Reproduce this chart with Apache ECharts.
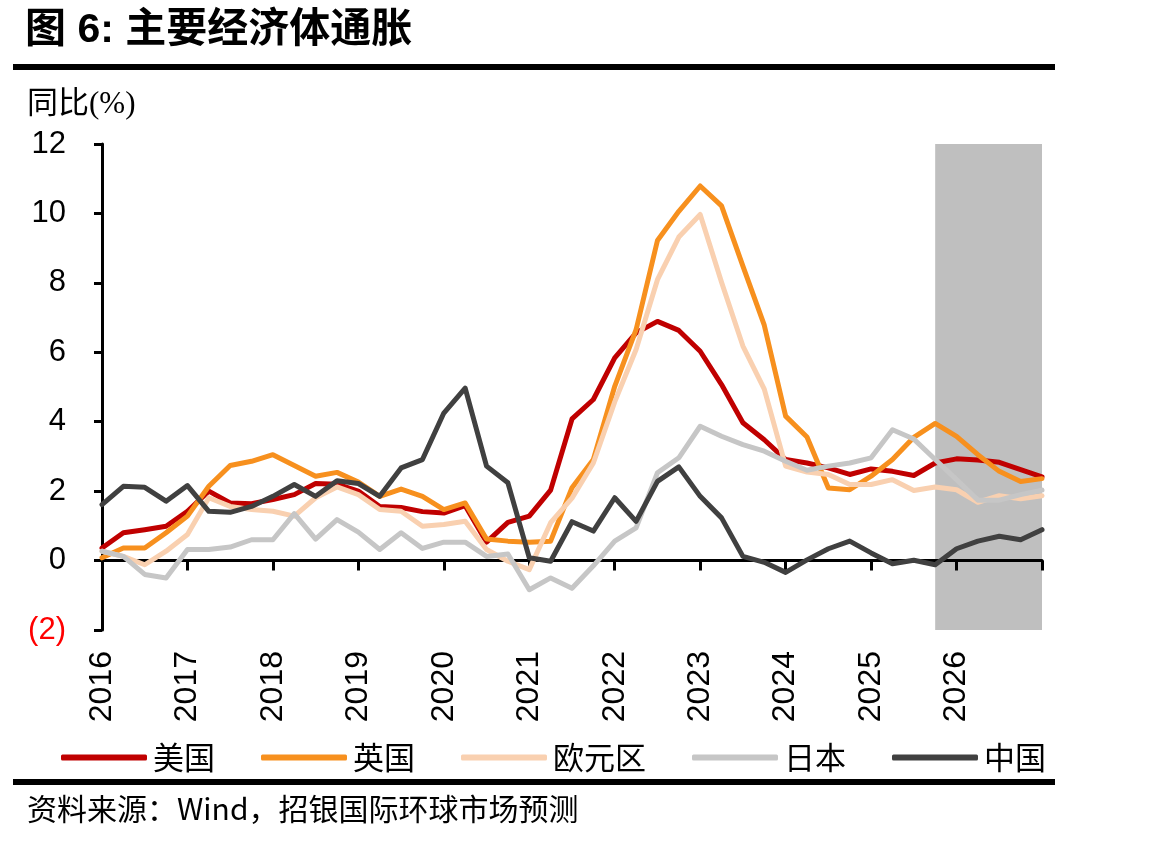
<!DOCTYPE html>
<html lang="zh">
<head>
<meta charset="utf-8">
<title>主要经济体通胀</title>
<script src="https://cdn.jsdelivr.net/npm/echarts@6.0.0/dist/echarts.min.js"></script>
<style>
  html, body { margin: 0; padding: 0; background: #fff; }
  #chart { width: 1165px; height: 843px; }
</style>
</head>
<body>
<div id="chart"></div>
<script>
const YEARS = ["2016", "2017", "2018", "2019", "2020", "2021", "2022", "2023", "2024", "2025", "2026"];
const END_LABEL = "2027";
const FORECAST_START = "2025Q4";

// quarterly points, one per quarter, tick label at each year start
const categories = [];
YEARS.forEach((year) => {
  categories.push(year, `${year}Q2`, `${year}Q3`, `${year}Q4`);
});
categories.push(END_LABEL);

const usCpi = [
  0.36, 0.80, 0.89, 0.99, 1.42, 2.00, 1.66, 1.64, 1.76, 1.90,
  2.22, 2.20, 2.00, 1.56, 1.53, 1.41, 1.37, 1.58, 0.53, 1.10,
  1.28, 2.03, 4.08, 4.64, 5.84, 6.56, 6.89, 6.63, 6.03, 5.07,
  3.97, 3.48, 2.91, 2.81, 2.67, 2.48, 2.64, 2.57, 2.45, 2.81,
  2.93, 2.90, 2.83, 2.62, 2.41,
];
const ukCpi = [
  0.08, 0.36, 0.36, 0.80, 1.28, 2.14, 2.74, 2.86, 3.05, 2.74,
  2.43, 2.54, 2.26, 1.85, 2.06, 1.85, 1.47, 1.66, 0.62, 0.56,
  0.53, 0.56, 2.10, 2.91, 5.02, 6.65, 9.22, 10.06, 10.79, 10.22,
  8.48, 6.78, 4.16, 3.56, 2.09, 2.04, 2.43, 2.91, 3.55, 3.95,
  3.58, 3.05, 2.57, 2.28, 2.36,
];
const euroCpi = [
  0.27, 0.12, -0.12, 0.27, 0.75, 1.81, 1.56, 1.47, 1.42, 1.28,
  1.81, 2.12, 1.90, 1.47, 1.42, 0.99, 1.04, 1.13, 0.32, -0.02,
  -0.26, 1.09, 1.80, 2.81, 4.57, 6.08, 8.09, 9.32, 9.97, 8.02,
  6.18, 4.94, 2.72, 2.55, 2.48, 2.19, 2.19, 2.33, 2.02, 2.12,
  2.04, 1.68, 1.87, 1.78, 1.87,
];
const japanCpi = [
  0.27, 0.12, -0.40, -0.50, 0.32, 0.32, 0.39, 0.60, 0.60, 1.35,
  0.62, 1.18, 0.82, 0.32, 0.80, 0.35, 0.53, 0.53, 0.12, 0.19,
  -0.84, -0.50, -0.80, -0.15, 0.56, 0.94, 2.53, 2.96, 3.87, 3.58,
  3.34, 3.15, 2.86, 2.60, 2.72, 2.81, 2.96, 3.77, 3.50, 2.91,
  2.33, 1.74, 1.74, 1.90, 2.03,
];
const chinaCpi = [
  1.61, 2.14, 2.11, 1.71, 2.16, 1.42, 1.39, 1.56, 1.85, 2.19,
  1.85, 2.30, 2.22, 1.85, 2.67, 2.91, 4.25, 4.97, 2.72, 2.24,
  0.08, -0.02, 1.12, 0.85, 1.81, 1.13, 2.28, 2.70, 1.85, 1.23,
  0.12, -0.05, -0.34, 0.02, 0.34, 0.56, 0.22, -0.09, 0.01, -0.12,
  0.34, 0.56, 0.70, 0.60, 0.89,
];

const SERIES = [
  { name: "美国", data: usCpi, color: "#c00000" },
  { name: "英国", data: ukCpi, color: "#f7901e" },
  { name: "欧元区", data: euroCpi, color: "#f9d0b0" },
  { name: "日本", data: japanCpi, color: "#c6c6c6" },
  { name: "中国", data: chinaCpi, color: "#404040" },
];

const LATIN_FONT = '"Liberation Sans", Arial';
const CJK_FONT = '"Noto Sans CJK SC", sans-serif';

function renderChart() {
  const chart = echarts.init(document.getElementById("chart"), null, { renderer: "canvas" });

  const lineSeries = SERIES.map((item) => ({
    name: item.name,
    type: "line",
    xAxisIndex: 0,
    data: item.data,
    symbol: "none",
    z: 4,
    color: item.color,
    lineStyle: { color: item.color, width: 5, cap: "round", join: "round" },
  }));

  const forecastBand = {
    name: "forecast",
    type: "line",
    xAxisIndex: 0,
    data: [],
    z: 1,
    silent: true,
    markArea: {
      silent: true,
      itemStyle: { color: "#bfbfbf" },
      data: [[{ xAxis: FORECAST_START, yAxis: -2 }, { xAxis: END_LABEL, yAxis: 12 }]],
    },
  };

  chart.setOption({
    animation: false,
    backgroundColor: "#fff",
    grid: { left: 102, right: 123, top: 144, bottom: 213, containLabel: false },
    legend: {
      data: SERIES.map((item) => item.name),
      left: 56,
      top: 737,
      icon: "roundRect",
      itemWidth: 86,
      itemHeight: 6,
      itemGap: 46,
      textStyle: {
        fontFamily: CJK_FONT,
        fontSize: 31,
        color: "#000",
        padding: [0, 0, 0, 1],
      },
    },
    xAxis: [
      {
        type: "category",
        data: categories,
        boundaryGap: false,
        position: "bottom",
        z: 3,
        axisLine: { onZero: true, lineStyle: { color: "#000", width: 3 } },
        axisTick: { show: true, interval: 3, length: 10, lineStyle: { color: "#000", width: 3 } },
        axisLabel: { show: false },
        splitLine: { show: false },
      },
      {
        type: "category",
        data: categories,
        boundaryGap: false,
        position: "bottom",
        axisLine: { show: false, onZero: false },
        axisTick: { show: false },
        splitLine: { show: false },
        axisLabel: {
          interval: 3,
          rotate: 90,
          margin: 21,
          fontFamily: LATIN_FONT,
          fontSize: 32,
          color: "#000",
          formatter(value) {
            return value === END_LABEL ? "" : value;
          },
        },
      },
    ],
    yAxis: {
      type: "value",
      min: -2,
      max: 12,
      interval: 2,
      axisLine: { show: true, lineStyle: { color: "#000", width: 3 } },
      axisTick: { show: true, length: 8, lineStyle: { color: "#000", width: 3 } },
      splitLine: { show: false },
      axisLabel: {
        margin: 36,
        fontFamily: LATIN_FONT,
        fontSize: 31,
        color(value) {
          return Number(value) < 0 ? "#ff0000" : "#000";
        },
        formatter(value) {
          return value < 0 ? `(${-value})` : String(value);
        },
      },
    },
    series: [forecastBand, ...lineSeries],
    graphic: [
      {
        type: "text",
        left: 25,
        top: 10,
        style: {
          text: "图 6: 主要经济体通胀",
          font: `bold 41px ${LATIN_FONT}, ${CJK_FONT}`,
          fill: "#000",
        },
      },
      { type: "rect", shape: { x: 13, y: 64, width: 1042, height: 6 }, style: { fill: "#000" } },
      {
        type: "text",
        left: 27,
        top: 89,
        style: {
          text: "同比(%)",
          font: `31px "Liberation Serif", ${CJK_FONT}`,
          fill: "#000",
        },
      },
      { type: "rect", shape: { x: 13, y: 779, width: 1042, height: 6 }, style: { fill: "#000" } },
      {
        type: "text",
        left: 27,
        top: 794,
        style: {
          text: "资料来源：Wind，招银国际环球市场预测",
          font: `30px ${CJK_FONT}`,
          fill: "#000",
        },
      },
    ],
  });
}

document.addEventListener("DOMContentLoaded", renderChart);
</script>
</body>
</html>
